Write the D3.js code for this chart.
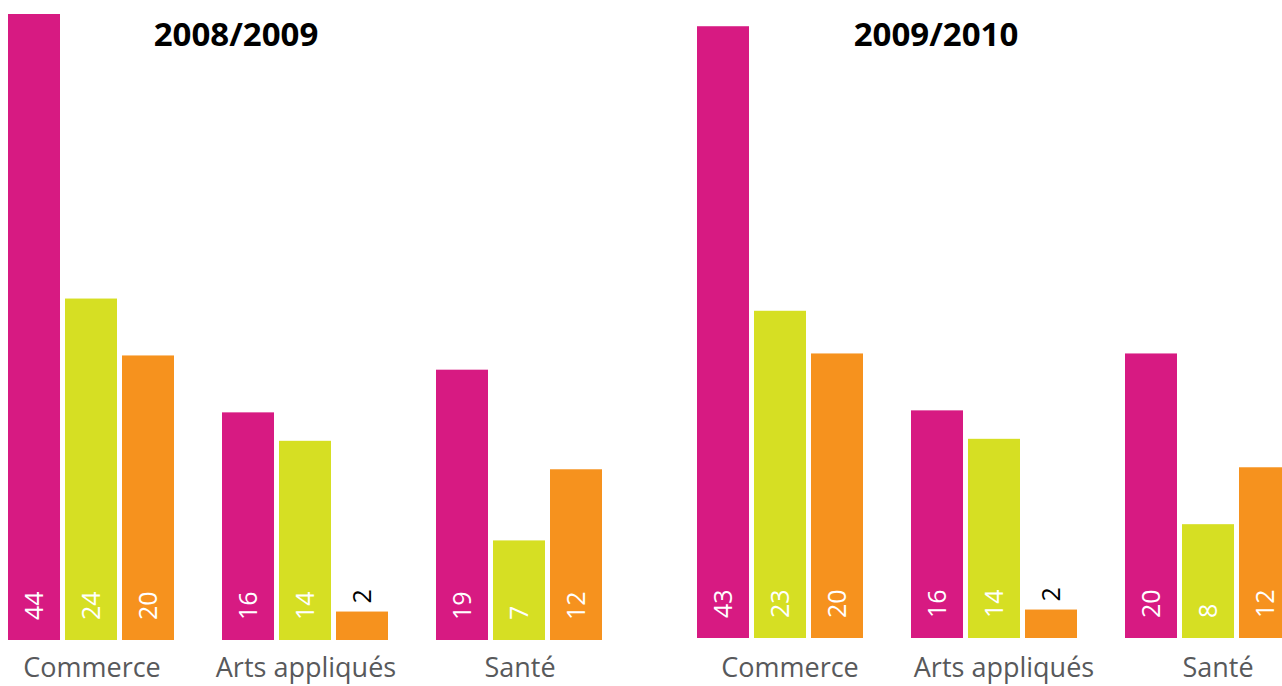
<!DOCTYPE html>
<html>
<head>
<meta charset="utf-8">
<script src="https://cdn.jsdelivr.net/npm/d3@7"></script>
<style>
  body { margin: 0; background: #fff; }
  svg { display: block; font-family: "Open Sans", sans-serif; }
</style>
</head>
<body>
<div id="chart"></div>
<script>
const categories = ["Commerce", "Arts appliqués", "Santé"];
const series = ["a", "b", "c"];
const years = ["2008/2009", "2009/2010"];
const values0809 = [[44, 24, 20], [16, 14, 2], [19, 7, 12]];
const values0910 = [[43, 23, 20], [16, 14, 2], [20, 8, 12]];
const colors = ["#d71a82", "#d6df23", "#f6921e"];

let width = 1282, height = 686;

let svg = d3.select("#chart").append("svg")
  .attr("width", width)
  .attr("height", height);

// one panel per school year
let panels = [
  { title: years[0], data: values0809, left: 8, base: 640, titleX: 236, labelShift: 1 },
  { title: years[1], data: values0910, left: 697, base: 638, titleX: 936, labelShift: 10 }
];

panels.forEach(p => {
  let x0 = d3.scaleBand()
    .domain(categories)
    .range([p.left, p.left + 594])
    .paddingInner(48 / 214)
    .paddingOuter(0);

  let x1 = d3.scaleBand()
    .domain(series)
    .range([0, x0.bandwidth()])
    .paddingInner(5 / 57)
    .paddingOuter(0);

  let y = d3.scaleLinear()
    .domain([0, 44])
    .range([p.base, p.base - 626]);

  let g = svg.append("g");

  let groups = g.selectAll(".cat")
    .data(categories).enter()
    .append("g")
    .attr("class", "cat")
    .attr("transform", d => `translate(${x0(d)},0)`);

  let bars = groups.selectAll("g.bar")
    .data((d, i) => p.data[i].map((v, j) => ({ key: series[j], value: v, color: colors[j] })))
    .enter().append("g")
    .attr("class", "bar");

  bars.append("rect")
    .attr("x", d => x1(d.key))
    .attr("y", d => y(d.value))
    .attr("width", x1.bandwidth())
    .attr("height", d => y(0) - y(d.value))
    .attr("fill", d => d.color);

  // value labels, rotated, inside the bar (or above if it is too small)
  bars.append("text")
    .attr("transform", d => {
      let cx = x1(d.key) + x1.bandwidth() / 2 + 9;
      let ty = d.value < 3 ? y(d.value) - 8 : y(0) - 20;
      return `translate(${cx},${ty}) rotate(-90)`;
    })
    .attr("font-size", 25)
    .attr("fill", d => d.value < 3 ? "#000" : "#fff")
    .text(d => d.value);

  // category labels
  g.selectAll(".cat-label")
    .data(categories).enter()
    .append("text")
    .attr("class", "cat-label")
    .attr("x", d => x0(d) + x0.bandwidth() / 2 + p.labelShift)
    .attr("y", 677)
    .attr("text-anchor", "middle")
    .attr("font-size", 27)
    .attr("fill", "#58595b")
    .text(d => d);

  g.append("text")
    .attr("x", p.titleX)
    .attr("y", 46)
    .attr("text-anchor", "middle")
    .attr("font-size", 33)
    .attr("font-weight", "bold")
    .attr("fill", "#000")
    .text(p.title);
});
</script>
</body>
</html>
